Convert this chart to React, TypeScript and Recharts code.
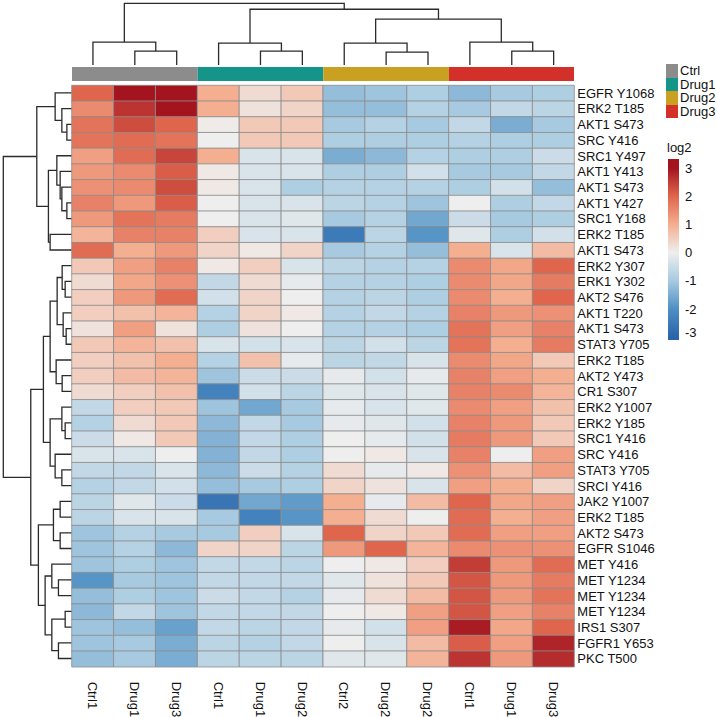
import { BarChart, Bar, Cell, XAxis, YAxis, LineChart, Line } from 'recharts'

// column samples (left to right) and their treatment groups
const colLabels = ['Ctrl1', 'Drug1', 'Drug3', 'Ctrl1', 'Drug1', 'Drug2', 'Ctrl2', 'Drug2', 'Drug2', 'Ctrl1', 'Drug1', 'Drug3']
const groupNames = ['Ctrl', 'Drug1', 'Drug2', 'Drug3']
const groupSizes = [3, 3, 3, 3]
const groupColors = ['#8c8c8c', '#15958a', '#c9a020', '#d3302a']

// phospho sites (top to bottom)
const rowLabels = [
  'EGFR Y1068', 'ERK2 T185', 'AKT1 S473', 'SRC Y416', 'SRC1 Y497', 'AKT1 Y413', 'AKT1 S473',
  'AKT1 Y427', 'SRC1 Y168', 'ERK2 T185', 'AKT1 S473', 'ERK2 Y307', 'ERK1 Y302', 'AKT2 S476',
  'AKT1 T220', 'AKT1 S473', 'STAT3 Y705', 'ERK2 T185', 'AKT2 Y473', 'CR1 S307', 'ERK2 Y1007',
  'ERK2 Y185', 'SRC1 Y416', 'SRC Y416', 'STAT3 Y705', 'SRCI Y416', 'JAK2 Y1007', 'ERK2 T185',
  'AKT2 S473', 'EGFR S1046', 'MET Y416', 'MET Y1234', 'MET Y1234', 'MET Y1234', 'IRS1 S307',
  'FGFR1 Y653', 'PKC T500',
]

// log2 fold change, one row per site, one value per column
const log2 = [
  [2.0, 3.0, 3.0, 1.0, 0.3, 0.6, -1.2, -1.1, -0.9, -1.3, -1.0, -0.9],
  [1.5, 2.6, 3.0, 1.0, 0.2, 0.4, -1.2, -1.2, -0.8, -1.0, -0.6, -0.7],
  [1.8, 2.3, 2.0, 0.05, 0.6, 0.6, -1.0, -0.8, -1.0, -0.6, -1.5, -1.0],
  [1.8, 1.9, 1.8, 0.0, 0.6, 0.6, -0.9, -0.9, -0.9, -0.8, -0.9, -0.9],
  [1.2, 1.9, 2.4, 1.0, -0.3, -0.3, -1.5, -1.3, -0.8, -0.9, -0.9, -0.5],
  [1.3, 1.5, 2.1, 0.1, -0.3, -0.3, -0.9, -0.9, -0.4, -1.0, -1.0, -0.6],
  [1.4, 1.5, 2.3, 0.1, -0.3, -0.9, -0.8, -0.8, -0.8, -0.9, -0.4, -1.2],
  [1.6, 1.3, 2.1, 0.0, -0.3, -0.3, -0.7, -0.8, -1.1, 0.0, -0.9, -0.6],
  [1.3, 1.8, 1.7, 0.0, -0.3, -0.2, -1.0, -0.8, -1.6, -0.5, -1.0, -0.9],
  [0.9, 1.6, 1.6, 0.5, -0.3, -0.3, -2.5, -0.7, -1.9, -0.2, -0.9, -0.4],
  [1.9, 1.0, 1.3, 0.4, 0.1, 0.4, -1.0, -0.8, -1.2, 1.0, -0.3, 0.8],
  [0.6, 1.2, 1.6, 0.1, 0.5, -0.3, -0.7, -0.8, -0.8, 1.5, 1.1, 2.0],
  [0.3, 1.1, 1.4, -0.6, 0.3, -0.1, -0.8, -0.8, -0.9, 1.5, 1.1, 1.7],
  [0.5, 1.3, 1.9, -0.4, 0.4, 0.0, -0.8, -0.7, -0.9, 1.5, 1.0, 2.0],
  [0.5, 0.7, 0.9, -0.8, 0.4, 0.1, -0.8, -0.6, -0.8, 1.6, 1.3, 1.4],
  [0.2, 1.2, 0.2, -0.9, 0.2, 0.0, -0.8, -0.8, -0.9, 1.8, 1.2, 1.6],
  [0.6, 0.9, 0.7, -0.3, -0.4, -0.3, -0.7, -0.4, -0.7, 1.8, 1.0, 1.7],
  [0.5, 0.7, 1.0, -0.8, 0.7, -0.1, -0.7, -0.6, -0.3, 1.5, 1.1, 0.6],
  [0.5, 0.8, 0.9, -1.1, -0.5, -0.5, -0.1, -0.4, -0.1, 1.6, 1.2, 1.0],
  [0.3, 0.5, 0.7, -2.3, -0.4, -0.7, -0.2, -0.3, -0.2, 1.6, 1.5, 0.9],
  [-0.6, 0.5, 0.6, -1.1, -1.6, -1.0, -0.1, -0.3, -0.2, 1.5, 1.2, 0.7],
  [-0.8, 0.3, 0.6, -1.3, -0.6, -1.0, -0.1, -0.2, -0.4, 1.6, 1.3, 0.6],
  [-0.5, 0.1, 0.6, -1.4, -0.6, -0.9, 0.0, -0.1, -0.4, 1.7, 1.3, 0.6],
  [-0.3, -0.3, 0.0, -1.4, -0.6, -0.9, 0.0, 0.1, -0.3, 1.6, 0.0, 1.2],
  [-0.6, -0.6, -0.3, -1.3, -0.5, -0.8, 0.3, -0.1, 0.1, 1.4, 0.8, 1.2],
  [-0.8, -0.6, -0.4, -1.2, -1.0, -0.9, 0.4, 0.2, -0.3, 1.2, 1.0, 0.4],
  [-0.7, -0.2, -0.5, -2.6, -1.6, -1.8, 1.0, -0.1, 0.8, 2.0, 1.1, 1.2],
  [-0.7, -0.3, -0.3, -1.0, -2.3, -1.9, 1.0, 0.3, 0.0, 1.9, 1.0, 1.2],
  [-1.1, -0.8, -1.0, -1.0, 0.5, -0.3, 2.0, 0.4, 0.6, 1.9, 1.2, 1.2],
  [-1.1, -0.8, -1.3, 0.4, 0.4, -0.7, 1.3, 2.0, 0.9, 1.5, 1.4, 1.4],
  [-1.1, -0.9, -1.1, -0.6, -0.6, -0.7, 0.0, 0.1, 0.5, 2.5, 1.3, 1.9],
  [-1.9, -1.0, -1.1, -0.6, -0.6, -0.6, -0.2, 0.2, 0.6, 2.2, 1.3, 1.7],
  [-1.2, -0.9, -1.1, -0.5, -0.6, -0.8, -0.1, 0.3, 0.8, 2.2, 1.3, 1.8],
  [-1.3, -0.6, -1.1, -0.6, -0.6, -0.6, 0.0, 0.1, 1.2, 2.2, 1.2, 1.6],
  [-1.1, -1.2, -1.7, -0.6, -0.7, -0.6, -0.1, -0.4, 1.2, 2.9, 1.1, 2.0],
  [-1.1, -1.0, -1.5, -0.7, -0.8, -0.6, 0.0, -0.3, 0.8, 2.1, 1.2, 2.8],
  [-1.2, -1.0, -1.5, -0.7, -0.7, -0.7, -0.2, -0.2, 0.9, 2.6, 1.3, 2.7],
]

// hierarchical clustering merges: [childA, childB, height]; leaves are 0..n-1,
// merge k gets id n + k
const colTree = [
  [1, 2, 1.4], [0, 12, 2.3],
  [4, 5, 1.4], [3, 14, 2.2],
  [7, 8, 1.3], [6, 16, 2.2],
  [10, 11, 1.4], [9, 18, 2.3],
  [17, 19, 4.6], [15, 20, 5.6], [13, 21, 6.2],
]

const rowTree = [
  [2, 3, 5.3], [1, 37, 10.3], [0, 38, 17],
  [7, 8, 5.3], [6, 40, 10.3], [5, 41, 12], [4, 42, 15.3], [9, 10, 22], [43, 44, 23.7],
  [39, 45, 35.3],
  [12, 13, 7], [11, 47, 10], [15, 16, 6], [14, 49, 9], [48, 50, 15],
  [18, 19, 10], [17, 52, 16], [51, 53, 22],
  [21, 22, 7], [20, 55, 10.3], [24, 25, 10.3], [23, 57, 17], [56, 58, 22], [54, 59, 28.7],
  [26, 27, 12], [28, 29, 12], [61, 62, 18.7],
  [31, 32, 13.7], [30, 64, 20.3], [33, 34, 7], [35, 36, 13.7], [66, 67, 20.3], [65, 68, 27],
  [63, 69, 33.7], [60, 70, 41.3], [46, 71, 68.7],
]

const legendTicks = [3, 2, 1, 0, -1, -2, -3]

// diverging palette for log2 values
const colorStops: [number, string][] = [
  [-3, '#2a64ab'],
  [-2, '#4f8fc4'],
  [-1, '#a7cae1'],
  [0, '#eeeeee'],
  [1, '#f4ae90'],
  [2, '#df654d'],
  [3, '#a3141f'],
]

const hexToRgb = (h: string) => [1, 3, 5].map((i) => parseInt(h.slice(i, i + 2), 16))

function heatColor(v: number) {
  const x = Math.max(-3, Math.min(3, v))
  for (let i = 0; i < colorStops.length - 1; i++) {
    const [v0, c0] = colorStops[i]
    const [v1, c1] = colorStops[i + 1]
    if (x <= v1) {
      const t = (x - v0) / (v1 - v0)
      const a = hexToRgb(c0)
      const b = hexToRgb(c1)
      const rgb = a.map((ch, k) => Math.round(ch + (b[k] - ch) * t))
      return `rgb(${rgb.join(',')})`
    }
  }
  return colorStops[colorStops.length - 1][1]
}

// turn merges into elbow polylines (leaf position p, height h)
function dendroLinks(tree: number[][], n: number) {
  const pos: number[] = []
  const ht: number[] = []
  for (let i = 0; i < n; i++) {
    pos[i] = i + 0.5
    ht[i] = 0
  }
  return tree.map(([a, b, h], k) => {
    const id = n + k
    pos[id] = (pos[a] + pos[b]) / 2
    ht[id] = h
    return [
      { p: pos[a], h: ht[a] },
      { p: pos[a], h },
      { p: pos[b], h },
      { p: pos[b], h: ht[b] },
    ]
  })
}

const colLinks = dendroLinks(colTree, colLabels.length)
const rowLinks = dendroLinks(rowTree, rowLabels.length)

const heatData = rowLabels.map((_, i) => {
  const d: Record<string, number> = { row: i }
  colLabels.forEach((_, j) => (d['c' + j] = 1))
  return d
})

const groupData = [
  groupSizes.reduce((acc: Record<string, any>, s, k) => ({ ...acc, ['g' + k]: s }), { k: 'group' }),
]

const legendData = [{ k: 'log2', range: [-3.1, 3.32] }]

// grid geometry
const GX0 = 71.7
const GX1 = 574.3
const GY0 = 85.3
const GY1 = 666.7
const LINE = '#2b2b2b'
const FONT = '"Liberation Sans", Arial, Helvetica, sans-serif'

const ColTick = ({ x, y, payload }: any) => (
  <text
    transform={`translate(${x},${y + 7}) rotate(90)`}
    textAnchor="start"
    dominantBaseline="central"
    fontSize={13}
    fill="#111"
  >
    {colLabels[Math.floor(payload.value)]}
  </text>
)

export default function App() {
  return (
    <div
      style={{
        position: 'absolute',
        left: 0,
        top: 0,
        width: 717,
        height: 717,
        background: '#fff',
        fontFamily: FONT,
        overflow: 'hidden',
      }}
    >
      {/* column dendrogram */}
      <div style={{ position: 'absolute', left: GX0, top: 0, width: GX1 - GX0, height: 65 }}>
        <LineChart width={GX1 - GX0} height={65} margin={{ top: 3.3, right: 0, bottom: 0, left: 0 }}>
          <XAxis type="number" dataKey="p" domain={[0, 12]} hide />
          <YAxis type="number" domain={[0, 6.2]} hide />
          {colLinks.map((pts, i) => (
            <Line
              key={i}
              data={pts}
              dataKey="h"
              type="linear"
              stroke={LINE}
              strokeWidth={1.3}
              dot={false}
              isAnimationActive={false}
            />
          ))}
        </LineChart>
      </div>

      {/* treatment annotation bar */}
      <div style={{ position: 'absolute', left: GX0, top: 66.7, width: GX1 - GX0, height: 14 }}>
        <BarChart
          width={GX1 - GX0}
          height={14}
          data={groupData}
          layout="vertical"
          margin={{ top: 0, right: 0, bottom: 0, left: 0 }}
          barCategoryGap={0}
        >
          <XAxis type="number" domain={[0, 12]} hide />
          <YAxis type="category" dataKey="k" hide />
          {groupNames.map((g, k) => (
            <Bar key={g} dataKey={'g' + k} stackId="grp" fill={groupColors[k]} isAnimationActive={false} />
          ))}
        </BarChart>
      </div>

      {/* row dendrogram */}
      <div style={{ position: 'absolute', left: 0, top: GY0, width: GX0 + 0.5, height: GY1 - GY0 }}>
        <LineChart width={GX0 + 0.5} height={GY1 - GY0} margin={{ top: 0, right: 0, bottom: 0, left: 3.3 }}>
          <XAxis type="number" dataKey="h" domain={[0, 68.7]} reversed hide />
          <YAxis type="number" domain={[0, 37]} reversed hide />
          {rowLinks.map((pts, i) => (
            <Line
              key={i}
              data={pts}
              dataKey="p"
              type="linear"
              stroke={LINE}
              strokeWidth={1.3}
              dot={false}
              isAnimationActive={false}
            />
          ))}
        </LineChart>
      </div>

      {/* heatmap */}
      <div style={{ position: 'absolute', left: 0, top: 0, width: 717, height: 717 }}>
        <BarChart
          width={717}
          height={717}
          data={heatData}
          layout="vertical"
          margin={{ top: GY0, right: 0, bottom: 0, left: GX0 }}
          barCategoryGap={0}
        >
          <XAxis
            type="number"
            domain={[0, 12]}
            ticks={colLabels.map((_, j) => j + 0.5)}
            height={717 - GY1}
            tickLine={false}
            axisLine={false}
            tick={<ColTick />}
            interval={0}
          />
          <YAxis
            type="category"
            dataKey="row"
            orientation="right"
            width={717 - GX1}
            tickLine={false}
            axisLine={false}
            tickSize={0}
            tickMargin={3}
            interval={0}
            tick={{ fontSize: 13, fill: '#111' }}
            tickFormatter={(i: number) => rowLabels[i]}
          />
          {colLabels.map((_, j) => (
            <Bar
              key={j}
              dataKey={'c' + j}
              stackId="hm"
              stroke="#8b8b8b"
              strokeWidth={0.8}
              isAnimationActive={false}
            >
              {log2.map((r, i) => (
                <Cell key={i} fill={heatColor(r[j])} />
              ))}
            </Bar>
          ))}
        </BarChart>
      </div>

      {/* group legend */}
      <div style={{ position: 'absolute', left: 666, top: 64 }}>
        {groupNames.map((g, k) => (
          <div key={g} style={{ display: 'flex', alignItems: 'center', height: 13.5 }}>
            <div style={{ width: 12, height: 13.5, background: groupColors[k] }} />
            <span style={{ marginLeft: 2, fontSize: 13, color: '#111', lineHeight: '13.5px' }}>{g}</span>
          </div>
        ))}
      </div>

      {/* colour key */}
      <div
        style={{ position: 'absolute', left: 667, top: 141, fontSize: 13, color: '#111', lineHeight: '14px' }}
      >
        log2
      </div>
      <div style={{ position: 'absolute', left: 668, top: 159, width: 45, height: 181 }}>
        <BarChart
          width={45}
          height={181}
          data={legendData}
          margin={{ top: 0, right: 0, bottom: 0, left: 0 }}
          barCategoryGap={0}
        >
          <defs>
            <linearGradient id="log2Grad" x1="0" y1="0" x2="0" y2="1">
              {colorStops
                .slice()
                .reverse()
                .map(([v, c]) => (
                  <stop key={v} offset={`${((3.32 - v) / 6.42) * 100}%`} stopColor={c} />
                ))}
            </linearGradient>
          </defs>
          <XAxis type="category" dataKey="k" hide />
          <YAxis
            type="number"
            domain={[-3.1, 3.32]}
            orientation="right"
            ticks={legendTicks}
            width={34}
            tickLine={false}
            axisLine={false}
            tickSize={0}
            tickMargin={6}
            tick={{ fontSize: 13, fill: '#111' }}
          />
          <Bar dataKey="range" fill="url(#log2Grad)" isAnimationActive={false} />
        </BarChart>
      </div>
    </div>
  )
}
